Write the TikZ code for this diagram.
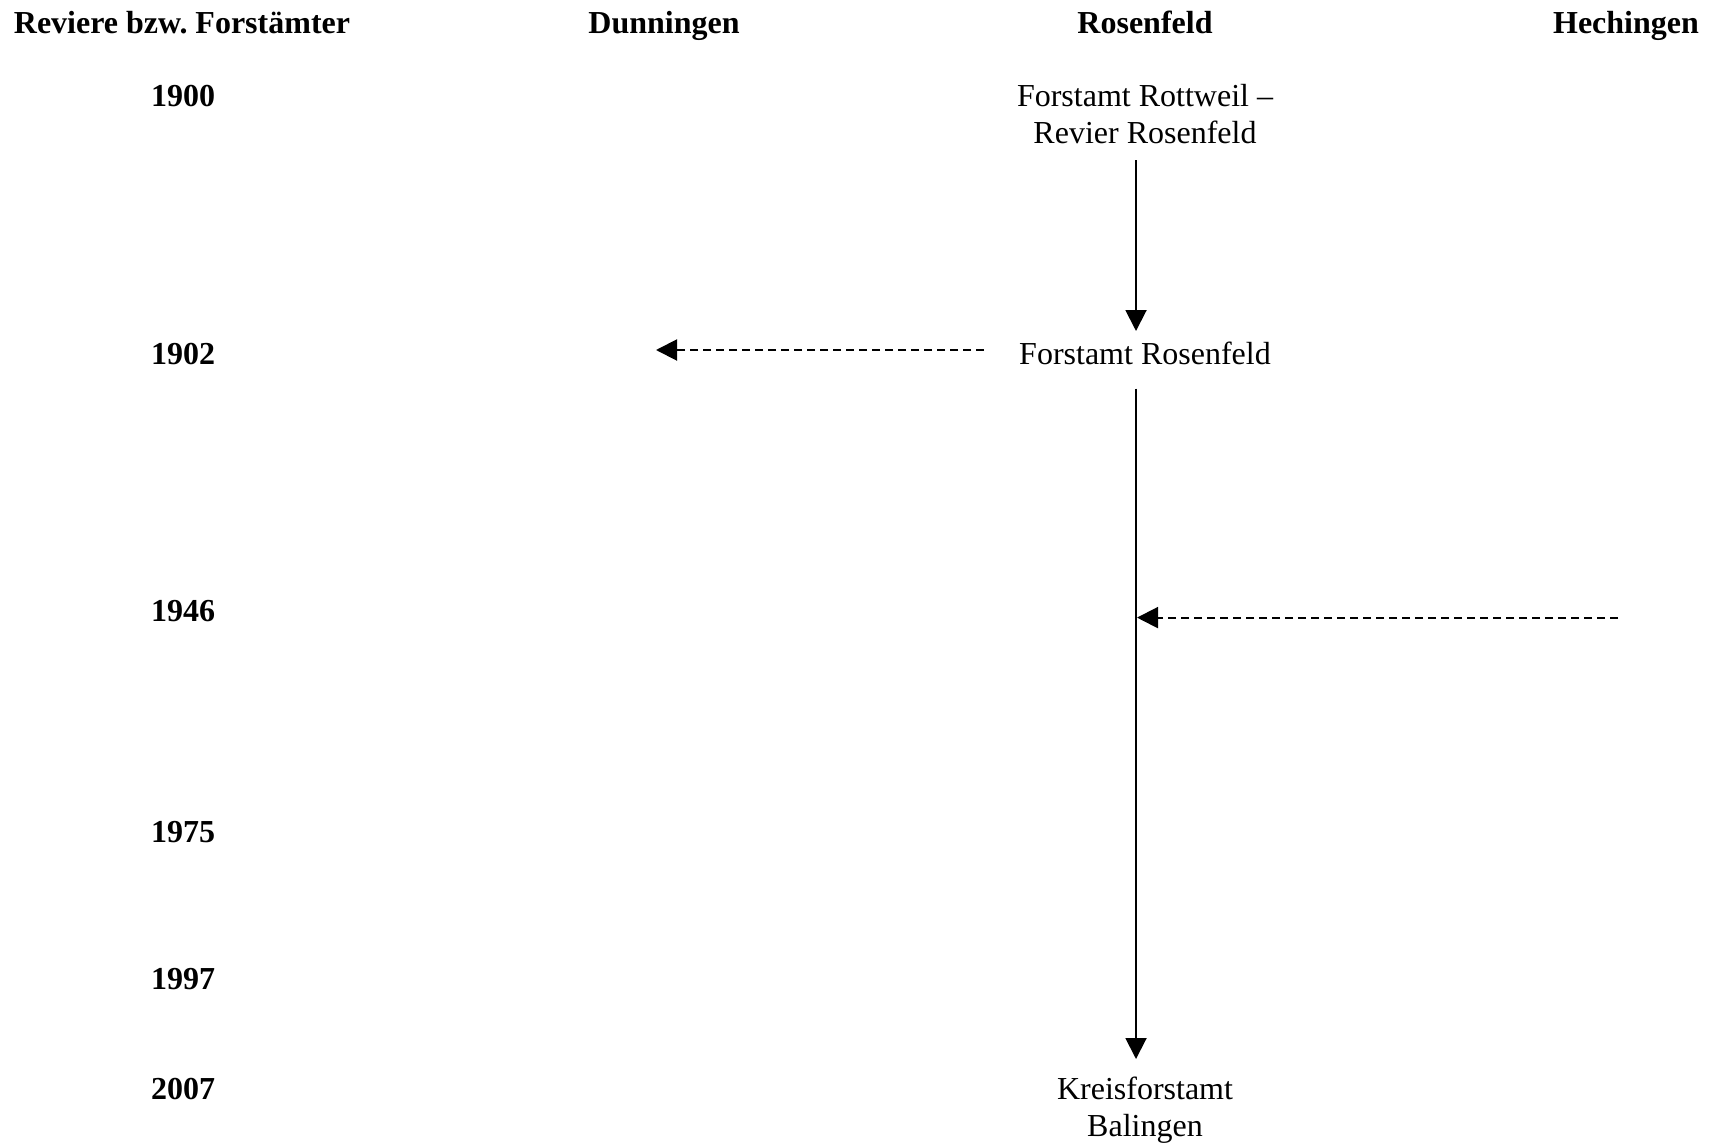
\documentclass[tikz,border=0pt]{standalone}
\usepackage{fontspec}
\setmainfont{Liberation Serif}
\usetikzlibrary{arrows.meta}
\frenchspacing
\begin{document}
\begin{tikzpicture}[x=1pt,y=-1pt,
  every node/.style={inner sep=0pt,outer sep=0pt,font=\fontsize{32}{37}\selectfont},
  head/.style={anchor=base,font=\fontsize{32}{37}\selectfont\bfseries},
  yearlbl/.style={anchor=base,font=\fontsize{32}{37}\selectfont\bfseries},
  office/.style={align=center},
  solidarrow/.style={line width=2pt,-{Triangle[length=21pt,width=21pt]}},
  dasharrow/.style={line width=2pt,dash pattern=on 8pt off 5pt,-{Triangle[length=21pt,width=21pt]}}]
\useasboundingbox (0,0) rectangle (1711,1146);
% headers
\node[head] (hrev) at (182,33) {Reviere bzw.\ Forstämter};
\node[head] (hdun) at (664,33) {Dunningen};
\node[head] (hros) at (1145,33) {Rosenfeld};
\node[head] (hhec) at (1626,33) {Hechingen};
% years
\node[yearlbl] (y1900) at (183,106.5) {1900};
\node[yearlbl] (y1902) at (183,364) {1902};
\node[yearlbl] (y1946) at (183,621.5) {1946};
\node[yearlbl] (y1975) at (183,842) {1975};
\node[yearlbl] (y1997) at (183,989.5) {1997};
\node[yearlbl] (y2007) at (183,1099.5) {2007};
% offices
\node[office,anchor=north] (rott) at (1145,84.5) {Forstamt Rottweil –\\Revier Rosenfeld};
\node[anchor=base] (rosen) at (1145,364) {Forstamt Rosenfeld};
\node[office,anchor=north] (kreis) at (1145,1076.5) {Kreisforstamt\\Balingen};
% connector ends
\coordinate (a1s) at (1136,160);
\coordinate (a1e) at (1136,331);
\coordinate (a2s) at (1136,388.5);
\coordinate (a2e) at (1136,1059);
\coordinate (d1s) at (984,350);
\coordinate (d1e) at (656,350);
\coordinate (d2s) at (1618,617.6);
\coordinate (d2e) at (1137,617.6);
% connectors
\draw[solidarrow] (a1s) -- (a1e);
\draw[solidarrow] (a2s) -- (a2e);
\draw[dasharrow] (d1s) -- (d1e);
\draw[dasharrow] (d2s) -- (d2e);
\end{tikzpicture}
\end{document}
